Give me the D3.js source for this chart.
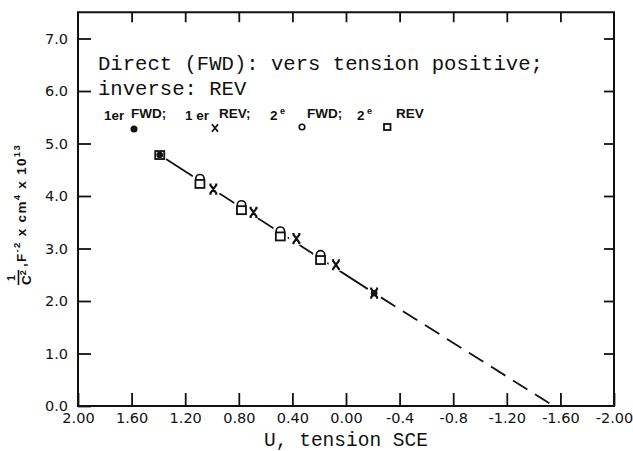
<!DOCTYPE html>
<html lang="fr">
<head>
<meta charset="UTF-8">
<title>1/C2 vs U, tension SCE</title>
<script src="https://d3js.org/d3.v7.min.js"></script>
<style>
  body { margin: 0; background: #fff; }
  svg { display: block; }
  .axis text { font-family: "DejaVu Sans", sans-serif; font-size: 14.5px; fill: #111; }
  .axis line { stroke: #111; stroke-width: 1.8px; }
  .mono { font-family: "Liberation Mono", monospace; font-size: 20.6px; fill: #111; }
  .leg { font-family: "Liberation Sans", Arial, sans-serif; font-size: 13.5px; font-weight: bold; fill: #111; }
</style>
</head>
<body>
<svg id="chart" width="633" height="451"></svg>
<script>
// axis ticks
const xTicks = [2.0, 1.6, 1.2, 0.8, 0.4, 0.0, -0.4, -0.8, -1.2, -1.6, -2.0];
const xTickLabels = ["2.00", "1.60", "1.20", "0.80", "0.40", "0.00", "-0.4", "-0.8", "-1.20", "-1.60", "-2.00"];
const yTicks = [0, 1, 2, 3, 4, 5, 6, 7];
const yTickLabels = ["0.0", "1.0", "2.0", "3.0", "4.0", "5.0", "6.0", "7.0"];

// 1er FWD (filled dot)
const fwd1U = [1.39, -0.21];
const fwd1V = [4.78, 2.15];
// 1er REV (x)
const rev1U = [0.99, 0.69, 0.37, 0.075, -0.21];
const rev1V = [4.13, 3.69, 3.19, 2.69, 2.15];
// 2e FWD (open circle)
const fwd2U = [1.09, 0.78, 0.49, 0.19];
const fwd2V = [4.33, 3.83, 3.33, 2.88];
// 2e REV (open square)
const rev2U = [1.39, 1.09, 0.78, 0.49, 0.19];
const rev2V = [4.78, 4.23, 3.73, 3.23, 2.78];

// fitted line (solid) and its extrapolation (dashed)
const fitU = [1.39, -0.21];
const fitV = [4.78, 2.15];
const extU = [-0.21, -1.55];
const extV = [2.15, 0.0];

const svg = d3.select("#chart");

const x = d3.scaleLinear().domain([2, -2]).range([78, 614]);
const y = d3.scaleLinear().domain([0, 7.5]).range([406, 12.25]);

const pts = (us, vs) => us.map((u, i) => [u, vs[i]]);

// axes, ticks pointing inward
svg.append("g").attr("class", "axis")
    .attr("transform", "translate(0," + y(0) + ")")
    .call(d3.axisBottom(x).tickValues(xTicks).tickSize(-13).tickPadding(7)
        .tickFormat((d, i) => xTickLabels[i]));

svg.append("g").attr("class", "axis")
    .attr("transform", "translate(0," + y(7.5) + ")")
    .call(d3.axisTop(x).tickValues(xTicks.slice(1, -1)).tickSize(-10).tickFormat(""));

svg.append("g").attr("class", "axis")
    .attr("transform", "translate(" + x(2) + ",0)")
    .call(d3.axisLeft(y).tickValues(yTicks).tickSize(-13).tickPadding(10)
        .tickFormat((d, i) => yTickLabels[i]));

svg.append("g").attr("class", "axis")
    .attr("transform", "translate(" + x(-2) + ",0)")
    .call(d3.axisRight(y).tickValues(yTicks.slice(1)).tickSize(-10).tickFormat(""));

svg.selectAll(".axis .domain").remove();

// frame
svg.append("rect")
    .attr("x", x(2)).attr("y", y(7.5))
    .attr("width", x(-2) - x(2)).attr("height", y(0) - y(7.5))
    .attr("fill", "none").attr("stroke", "#111").attr("stroke-width", 2);

// lines
const line = d3.line().x(d => x(d[0])).y(d => y(d[1]));
svg.append("path").datum(pts(fitU, fitV))
    .attr("d", line).attr("fill", "none").attr("stroke", "#111").attr("stroke-width", 1.8);
svg.append("path").datum(pts(extU, extV))
    .attr("d", line).attr("fill", "none").attr("stroke", "#111").attr("stroke-width", 1.8)
    .attr("stroke-dasharray", "17,9").attr("stroke-dashoffset", -8);

// white halos so the line stops short of the markers
const allPts = pts(fwd1U, fwd1V).concat(pts(rev1U, rev1V), pts(fwd2U, fwd2V), pts(rev2U, rev2V));
svg.selectAll(".halo").data(allPts).enter().append("circle")
    .attr("cx", d => x(d[0])).attr("cy", d => y(d[1])).attr("r", 7.5).attr("fill", "#fff");

// 2e FWD circles (drawn first, squares overlap their lower half)
svg.selectAll(".fwd2").data(pts(fwd2U, fwd2V)).enter().append("circle")
    .attr("cx", d => x(d[0])).attr("cy", d => y(d[1])).attr("r", 4.2)
    .attr("fill", "#fff").attr("stroke", "#111").attr("stroke-width", 1.7);

// 2e REV squares
svg.selectAll(".rev2").data(pts(rev2U, rev2V)).enter().append("rect")
    .attr("x", d => x(d[0]) - 4.5).attr("y", d => y(d[1]) - 4)
    .attr("width", 9).attr("height", 8)
    .attr("fill", "#fff").attr("stroke", "#111").attr("stroke-width", 1.8);

// 1er FWD filled dots
svg.selectAll(".fwd1").data(pts(fwd1U, fwd1V)).enter().append("circle")
    .attr("cx", d => x(d[0])).attr("cy", d => y(d[1])).attr("r", 3.3).attr("fill", "#111");

// 1er REV crosses
const cross = "M-3.2,-4.5L3.2,4.5M3.2,-4.5L-3.2,4.5M-4,-4.5L-1.8,-4.5M1.8,-4.5L4,-4.5M-4,4.5L-1.8,4.5M1.8,4.5L4,4.5";
svg.selectAll(".rev1").data(pts(rev1U, rev1V)).enter().append("path")
    .attr("transform", d => "translate(" + x(d[0]) + "," + y(d[1]) + ")")
    .attr("d", cross).attr("fill", "none").attr("stroke", "#111").attr("stroke-width", 2.2);

// typewriter notes
svg.append("text").attr("class", "mono").attr("x", 98).attr("y", 70)
    .text("Direct (FWD): vers tension positive;");
svg.append("text").attr("class", "mono").attr("x", 98).attr("y", 95)
    .text("inverse: REV");

// legend line
const leg = svg.append("g");
leg.append("text").attr("class", "leg").attr("x", 104).attr("y", 120).text("1er");
leg.append("text").attr("class", "leg").attr("x", 131).attr("y", 118).text("FWD;");
leg.append("circle").attr("cx", 134).attr("cy", 129).attr("r", 3.5).attr("fill", "#111");
leg.append("text").attr("class", "leg").attr("x", 185).attr("y", 120).text("1 er");
leg.append("path").attr("transform", "translate(215,128) scale(0.75)")
    .attr("d", "M-4,-5L4,5M4,-5L-4,5").attr("fill", "none").attr("stroke", "#111").attr("stroke-width", 2.4);
leg.append("text").attr("class", "leg").attr("x", 219).attr("y", 118).text("REV;");
leg.append("text").attr("class", "leg").attr("x", 270).attr("y", 120).text("2");
leg.append("text").attr("class", "leg").attr("x", 280).attr("y", 114).style("font-size", "9px").text("e");
leg.append("circle").attr("cx", 302).attr("cy", 127).attr("r", 2.8)
    .attr("fill", "none").attr("stroke", "#111").attr("stroke-width", 1.6);
leg.append("text").attr("class", "leg").attr("x", 307).attr("y", 118).text("FWD;");
leg.append("text").attr("class", "leg").attr("x", 357).attr("y", 120).text("2");
leg.append("text").attr("class", "leg").attr("x", 367).attr("y", 114).style("font-size", "9px").text("e");
leg.append("rect").attr("x", 384).attr("y", 124).attr("width", 6.5).attr("height", 6)
    .attr("fill", "none").attr("stroke", "#111").attr("stroke-width", 1.8);
leg.append("text").attr("class", "leg").attr("x", 396).attr("y", 118).text("REV");

// x axis title
svg.append("text").attr("class", "mono").attr("x", x(0)).attr("y", 446)
    .style("font-size", "19.5px")
    .attr("text-anchor", "middle").text("U, tension SCE");

// y axis title, rotated
const yt = svg.append("g").attr("transform", "rotate(-90)");
yt.append("text").attr("x", -278).attr("y", 15).attr("text-anchor", "middle")
    .attr("class", "leg").style("font-size", "11px").text("1");
yt.append("line").attr("x1", -285).attr("x2", -270).attr("y1", 18.5).attr("y2", 18.5)
    .attr("stroke", "#111").attr("stroke-width", 1.6);
const yc = yt.append("text").attr("class", "leg").attr("x", -285).attr("y", 31)
    .style("font-size", "13.5px");
yc.append("tspan").text("C");
yc.append("tspan").attr("dy", -5).style("font-size", "9px").text("2");
const ym = yt.append("text").attr("class", "leg").attr("x", -267).attr("y", 26)
    .style("letter-spacing", "1.3px");
ym.append("tspan").text(",F");
ym.append("tspan").attr("dy", -6).style("font-size", "9.5px").text("-2");
ym.append("tspan").attr("dy", 6).text(" x cm");
ym.append("tspan").attr("dy", -6).style("font-size", "9.5px").text("4");
ym.append("tspan").attr("dy", 6).text(" x 10");
ym.append("tspan").attr("dy", -6).style("font-size", "9.5px").text("13");
</script>
</body>
</html>
